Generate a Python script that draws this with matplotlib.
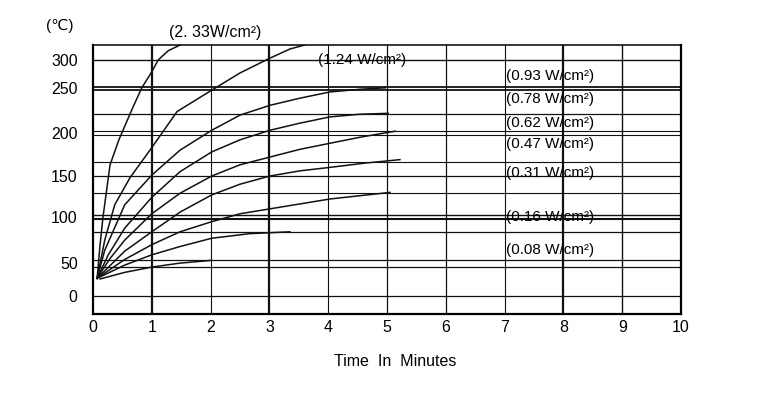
import numpy as np
import matplotlib.pyplot as plt

plt.rcParams['font.family'] = ['Liberation Sans', 'DejaVu Sans']

# heating curves: minutes vs degrees C, one per power density
t_233 = [0.07, 0.12, 0.17, 0.29, 0.44, 0.68, 0.83, 1.0, 1.11, 1.28, 1.48]
c_233 = [27, 70, 100, 163, 192, 229, 251, 279, 300, 316, 326]

t_124 = [0.07, 0.20, 0.37, 0.63, 1.0, 1.43, 2.02, 2.5, 3.01, 3.35, 3.6]
c_124 = [27, 75, 115, 148, 183, 224, 248, 277, 303, 319, 326]

t_093 = [0.07, 0.20, 0.54, 1.0, 1.48, 2.02, 2.5, 3.01, 3.52, 4.03, 4.54, 4.97]
c_093 = [27, 64, 115, 151, 180, 203, 220, 231, 239, 246, 249, 251]

t_078 = [0.07, 0.26, 0.54, 1.0, 1.48, 2.02, 2.5, 3.01, 3.52, 4.03, 4.54, 5.02]
c_078 = [27, 59, 88, 124, 155, 178, 192, 203, 211, 218, 221, 222]

t_062 = [0.07, 0.29, 0.54, 1.0, 1.48, 2.02, 2.5, 3.01, 3.52, 4.03, 4.54, 5.14]
c_062 = [27, 55, 75, 104, 129, 150, 163, 172, 181, 188, 195, 202]

t_047 = [0.07, 0.54, 1.0, 1.48, 2.02, 2.5, 3.01, 3.52, 4.03, 4.63, 5.22]
c_047 = [27, 63, 84, 106, 127, 140, 150, 156, 160, 165, 169]

t_031 = [0.07, 0.54, 1.0, 1.48, 2.02, 2.5, 3.01, 3.52, 4.03, 5.05]
c_031 = [27, 54, 70, 84, 95, 104, 110, 116, 122, 130]

t_016 = [0.07, 0.54, 1.0, 1.48, 2.02, 2.67, 3.35]
c_016 = [27, 47, 59, 68, 77, 82, 84]

t_008 = [0.12, 0.54, 1.0, 1.48, 2.02]
c_008 = [26, 36, 44, 50, 53]

curves = [(t_233, c_233), (t_124, c_124), (t_093, c_093), (t_078, c_078),
          (t_062, c_062), (t_047, c_047), (t_031, c_031), (t_016, c_016),
          (t_008, c_008)]

x_ticks = list(range(0, 11))
y_ticks = [0, 50, 100, 150, 200, 250, 300]

# the printed temperature axis is not evenly spaced, so follow its tick rows
t_knots = [-100, 0, 50, 100, 150, 200, 250, 300, 400]
v_knots = [-66, 0, 33, 79, 120, 163, 207.5, 236, 293]


def fwd(t):
    return np.interp(t, t_knots, v_knots)


def inv(v):
    return np.interp(v, v_knots, t_knots)


fig = plt.figure(figsize=(7.66, 3.95), dpi=100)
ax = fig.add_axes([93 / 766, 81 / 395, 588 / 766, 269 / 395])
ax.set_yscale('function', functions=(fwd, inv))
ax.set_xlim(0, 10)
ax.set_ylim(-27, 326)

# grid of the original sheet (some rows doubled / heavier)
hlines = [(300, 1.0), (252.6, 1.3), (248.3, 1.3), (221.3, 0.9), (202.2, 0.8),
          (197.7, 0.8), (166.3, 0.8), (150, 0.9), (129.3, 0.8), (102.4, 1.0),
          (97.8, 1.5), (83.7, 0.9), (53.3, 0.9), (43.9, 0.9), (0, 0.9)]
for y, w in hlines:
    ax.axhline(y, color='#111111', lw=w, zorder=1)

vwidths = [0, 1.6, 0.8, 1.6, 0.8, 0.9, 0.9, 0.8, 1.6, 1.0, 0]
for x, w in zip(x_ticks, vwidths):
    if w:
        ax.axvline(x, color='#111111', lw=w, zorder=1)

for t, c in curves:
    ax.plot(t, c, color='#111111', lw=1.1, zorder=2)

for side in ['left', 'right', 'bottom']:
    ax.spines[side].set_linewidth(1.6)
ax.spines['top'].set_linewidth(1.1)

ax.set_xticks(x_ticks)
ax.set_yticks(y_ticks)
ax.yaxis.set_minor_locator(plt.NullLocator())
ax.tick_params(length=0, labelsize=11.5)
ax.tick_params(axis='y', pad=11)
ax.tick_params(axis='x', pad=4)

fig.text(60 / 766, 1 - 26 / 395, '(\u2103)', ha='center', va='center', fontsize=11)
fig.text(215 / 766, 1 - 33 / 395, '(2. 33W/cm\u00b2)', ha='center', va='center',
         fontsize=11.5)
ax.text(3.83, 300, '(1.24 W/cm\u00b2)', ha='left', va='center', fontsize=11)

right_labels = ['0.93', '0.78', '0.62', '0.47', '0.31', '0.16', '0.08']
right_y = [272, 238, 211, 187, 153, 100, 64]
for lab, y in zip(right_labels, right_y):
    ax.text(7.02, y, '(%s W/cm\u00b2)' % lab, ha='left', va='center', fontsize=11)

fig.text(395 / 766, 1 - 362 / 395, 'Time  In  Minutes', ha='center', va='center',
         fontsize=11.5)

fig.savefig('out.png', dpi=100)
